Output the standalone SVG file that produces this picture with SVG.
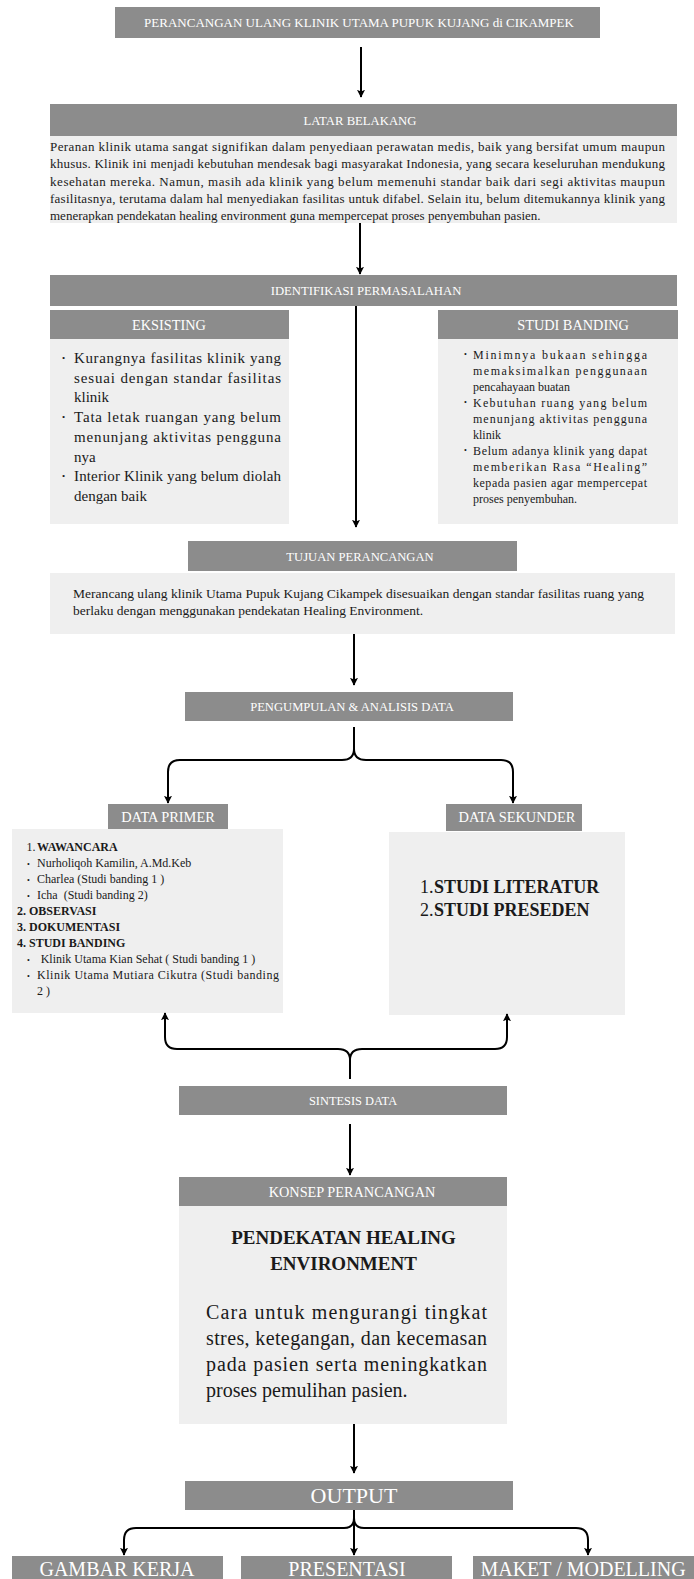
<svg xmlns="http://www.w3.org/2000/svg" width="694" height="1579" viewBox="0 0 694 1579">
<style>
.hd{fill:#8c8c8c}
.bd{fill:#efefef}
.ht{font-family:"Liberation Serif",serif;fill:#ffffff;text-anchor:middle}
.tx{font-family:"Liberation Serif",serif;fill:#1a1a1a}
.b{font-weight:bold}
.cn{fill:none;stroke:#000;stroke-width:2}
</style>
<defs>
<marker id="ah" viewBox="0 0 10 10" refX="9" refY="5" markerWidth="8" markerHeight="8" markerUnits="userSpaceOnUse" orient="auto">
<path d="M0,0 L10,5 L0,10 L2,5 z" fill="#000"/>
</marker>
</defs>
<rect width="694" height="1579" fill="#fff"/>

<g id="title">
<rect class="hd" x="115" y="7" width="485" height="31"/>
<text class="ht" x="359" y="27" font-size="13">PERANCANGAN ULANG KLINIK UTAMA PUPUK KUJANG di CIKAMPEK</text>
</g>

<g id="latar-belakang">
<rect class="hd" x="50" y="104" width="627" height="32"/>
<text class="ht" x="360" y="124.5" font-size="12.7">LATAR BELAKANG</text>
<rect class="bd" x="50" y="136" width="627" height="87"/>
<g class="tx" font-size="13">
<text x="50" y="151" textLength="615" lengthAdjust="spacing">Peranan klinik utama sangat signifikan dalam penyediaan perawatan medis, baik yang bersifat umum maupun</text>
<text x="50" y="168.3" textLength="615" lengthAdjust="spacing">khusus. Klinik ini menjadi kebutuhan mendesak bagi masyarakat Indonesia, yang secara keseluruhan mendukung</text>
<text x="50" y="185.6" textLength="615" lengthAdjust="spacing">kesehatan mereka. Namun, masih ada klinik yang belum memenuhi standar baik dari segi aktivitas maupun</text>
<text x="50" y="202.9" textLength="615" lengthAdjust="spacing">fasilitasnya, terutama dalam hal menyediakan fasilitas untuk difabel. Selain itu, belum ditemukannya klinik yang</text>
<text x="50" y="220.2">menerapkan pendekatan healing environment guna mempercepat proses penyembuhan pasien.</text>
</g>
</g>

<g id="identifikasi">
<rect class="hd" x="50" y="275" width="627" height="31"/>
<text class="ht" x="366" y="295" font-size="12.7">IDENTIFIKASI PERMASALAHAN</text>
</g>

<g id="eksisting">
<rect class="hd" x="50" y="310" width="239" height="29"/>
<text class="ht" x="169" y="330" font-size="14.3">EKSISTING</text>
<rect class="bd" x="50" y="339" width="239" height="185"/>
<g class="tx" font-size="15">
<text x="62" y="361" font-size="9">•</text>
<text x="62" y="420" font-size="9">•</text>
<text x="62" y="479" font-size="9">•</text>
<text x="74" y="363" textLength="207" lengthAdjust="spacing">Kurangnya fasilitas klinik yang</text>
<text x="74" y="382.7" textLength="207" lengthAdjust="spacing">sesuai dengan standar fasilitas</text>
<text x="74" y="402.4">klinik</text>
<text x="74" y="422.1" textLength="207" lengthAdjust="spacing">Tata letak ruangan yang belum</text>
<text x="74" y="441.8" textLength="207" lengthAdjust="spacing">menunjang aktivitas pengguna</text>
<text x="74" y="461.5">nya</text>
<text x="74" y="481.2" textLength="207" lengthAdjust="spacing">Interior Klinik yang belum diolah</text>
<text x="74" y="500.9">dengan baik</text>
</g>
</g>

<g id="studi-banding">
<rect class="hd" x="438" y="310" width="240" height="29"/>
<text class="ht" x="573" y="330" font-size="14.3">STUDI BANDING</text>
<rect class="bd" x="438" y="339" width="240" height="185"/>
<g class="tx" font-size="12">
<text x="464" y="357" font-size="8">•</text>
<text x="464" y="405" font-size="8">•</text>
<text x="464" y="453" font-size="8">•</text>
<text x="473" y="359" textLength="174" lengthAdjust="spacing">Minimnya bukaan sehingga</text>
<text x="473" y="375" textLength="174" lengthAdjust="spacing">memaksimalkan penggunaan</text>
<text x="473" y="391">pencahayaan buatan</text>
<text x="473" y="407" textLength="174" lengthAdjust="spacing">Kebutuhan ruang yang belum</text>
<text x="473" y="423" textLength="174" lengthAdjust="spacing">menunjang aktivitas pengguna</text>
<text x="473" y="439">klinik</text>
<text x="473" y="455" textLength="174" lengthAdjust="spacing">Belum adanya klinik yang dapat</text>
<text x="473" y="471" textLength="174" lengthAdjust="spacing">memberikan Rasa “Healing”</text>
<text x="473" y="487" textLength="174" lengthAdjust="spacing">kepada pasien agar mempercepat</text>
<text x="473" y="503">proses penyembuhan.</text>
</g>
</g>

<g id="tujuan">
<rect class="hd" x="188" y="541" width="329" height="30"/>
<text class="ht" x="360" y="561" font-size="12.6">TUJUAN PERANCANGAN</text>
<rect class="bd" x="50" y="573" width="625" height="61"/>
<g class="tx" font-size="13.5">
<text x="73" y="598" textLength="571" lengthAdjust="spacing">Merancang ulang klinik Utama Pupuk Kujang Cikampek disesuaikan dengan standar fasilitas ruang yang</text>
<text x="73" y="615">berlaku dengan menggunakan pendekatan Healing Environment.</text>
</g>
</g>

<g id="pengumpulan">
<rect class="hd" x="185" y="692" width="328" height="29"/>
<text class="ht" x="352" y="711" font-size="12.6">PENGUMPULAN &amp; ANALISIS DATA</text>
</g>

<g id="data-primer">
<rect class="hd" x="108" y="804" width="120" height="25"/>
<text class="ht" x="168" y="821.5" font-size="14.4">DATA PRIMER</text>
<rect class="bd" x="12" y="829" width="271" height="184"/>
<g class="tx" font-size="12">
<text x="26.5" y="851">1.<tspan class="b" x="37">WAWANCARA</tspan></text>
<text x="27" y="867" font-size="8">•</text>
<text x="37" y="867">Nurholiqoh Kamilin, A.Md.Keb</text>
<text x="27" y="883" font-size="8">•</text>
<text x="37" y="883">Charlea (Studi banding 1 )</text>
<text x="27" y="899" font-size="8">•</text>
<text x="37" y="899" xml:space="preserve">Icha  (Studi banding 2)</text>
<text class="b" x="17" y="915">2. OBSERVASI</text>
<text class="b" x="17" y="931">3. DOKUMENTASI</text>
<text class="b" x="17" y="947">4. STUDI BANDING</text>
<text x="27" y="963" font-size="8">•</text>
<text x="40.7" y="963">Klinik Utama Kian Sehat ( Studi banding 1 )</text>
<text x="27" y="979" font-size="8">•</text>
<text x="37" y="979" textLength="242" lengthAdjust="spacing">Klinik Utama Mutiara Cikutra (Studi banding</text>
<text x="37" y="995">2 )</text>
</g>
</g>

<g id="data-sekunder">
<rect class="hd" x="446" y="804" width="136" height="27"/>
<text class="ht" x="517" y="822" font-size="14.4">DATA SEKUNDER</text>
<rect class="bd" x="389" y="832" width="236" height="183"/>
<g class="tx" font-size="18">
<text x="420" y="893">1.<tspan class="b" x="434">STUDI LITERATUR</tspan></text>
<text x="420" y="916">2.<tspan class="b" x="434">STUDI PRESEDEN</tspan></text>
</g>
</g>

<g id="sintesis">
<rect class="hd" x="179" y="1086" width="328" height="29"/>
<text class="ht" x="353" y="1105" font-size="12.4">SINTESIS DATA</text>
</g>

<g id="konsep">
<rect class="hd" x="179" y="1177" width="328" height="29"/>
<text class="ht" x="352" y="1196.5" font-size="14.3">KONSEP PERANCANGAN</text>
<rect class="bd" x="179" y="1206" width="328" height="218"/>
<g class="tx">
<text class="b" x="343.5" y="1243.5" font-size="19" text-anchor="middle">PENDEKATAN HEALING</text>
<text class="b" x="343.5" y="1269.5" font-size="19" text-anchor="middle">ENVIRONMENT</text>
<g font-size="20">
<text x="206" y="1319" textLength="281" lengthAdjust="spacing">Cara untuk mengurangi tingkat</text>
<text x="206" y="1345" textLength="281" lengthAdjust="spacing">stres, ketegangan, dan kecemasan</text>
<text x="206" y="1371" textLength="281" lengthAdjust="spacing">pada pasien serta meningkatkan</text>
<text x="206" y="1397">proses pemulihan pasien.</text>
</g>
</g>
</g>

<g id="output">
<rect class="hd" x="185" y="1481" width="328" height="29"/>
<text class="ht" x="354" y="1503" font-size="22">OUTPUT</text>
</g>

<g id="gambar-kerja">
<rect class="hd" x="12" y="1556" width="211" height="23"/>
<text class="ht" x="117" y="1576" font-size="20">GAMBAR KERJA</text>
</g>
<g id="presentasi">
<rect class="hd" x="241" y="1556" width="211" height="23"/>
<text class="ht" x="347" y="1576" font-size="20">PRESENTASI</text>
</g>
<g id="maket">
<rect class="hd" x="473" y="1556" width="221" height="23"/>
<text class="ht" x="583" y="1576" font-size="20">MAKET / MODELLING</text>
</g>

<g id="connectors" class="cn">
<path d="M361,47 V97" marker-end="url(#ah)"/>
<path d="M360,223 V274" marker-end="url(#ah)"/>
<path d="M356,306 V527" marker-end="url(#ah)"/>
<path d="M354,634 V685" marker-end="url(#ah)"/>
<path d="M354,727 V749 Q354,760 342,760 H180 Q168,760 168,772 V803" marker-end="url(#ah)"/>
<path d="M354,749 Q354,760 366,760 H501 Q513,760 513,772 V803" marker-end="url(#ah)"/>
<path d="M350,1079 V1060 Q350,1049 338,1049 H177 Q165,1049 165,1037 V1013" marker-end="url(#ah)"/>
<path d="M350,1060 Q350,1049 362,1049 H495 Q507,1049 507,1037 V1014" marker-end="url(#ah)"/>
<path d="M350,1124 V1175" marker-end="url(#ah)"/>
<path d="M354,1424 V1473" marker-end="url(#ah)"/>
<path d="M354,1518 Q354,1528 344,1528 H136 Q124,1528 124,1540 V1555" marker-end="url(#ah)"/>
<path d="M354,1518 Q354,1528 364,1528 H576 Q588,1528 588,1540 V1555" marker-end="url(#ah)"/>
<path d="M354,1510 V1555" marker-end="url(#ah)"/>
</g>
</svg>
